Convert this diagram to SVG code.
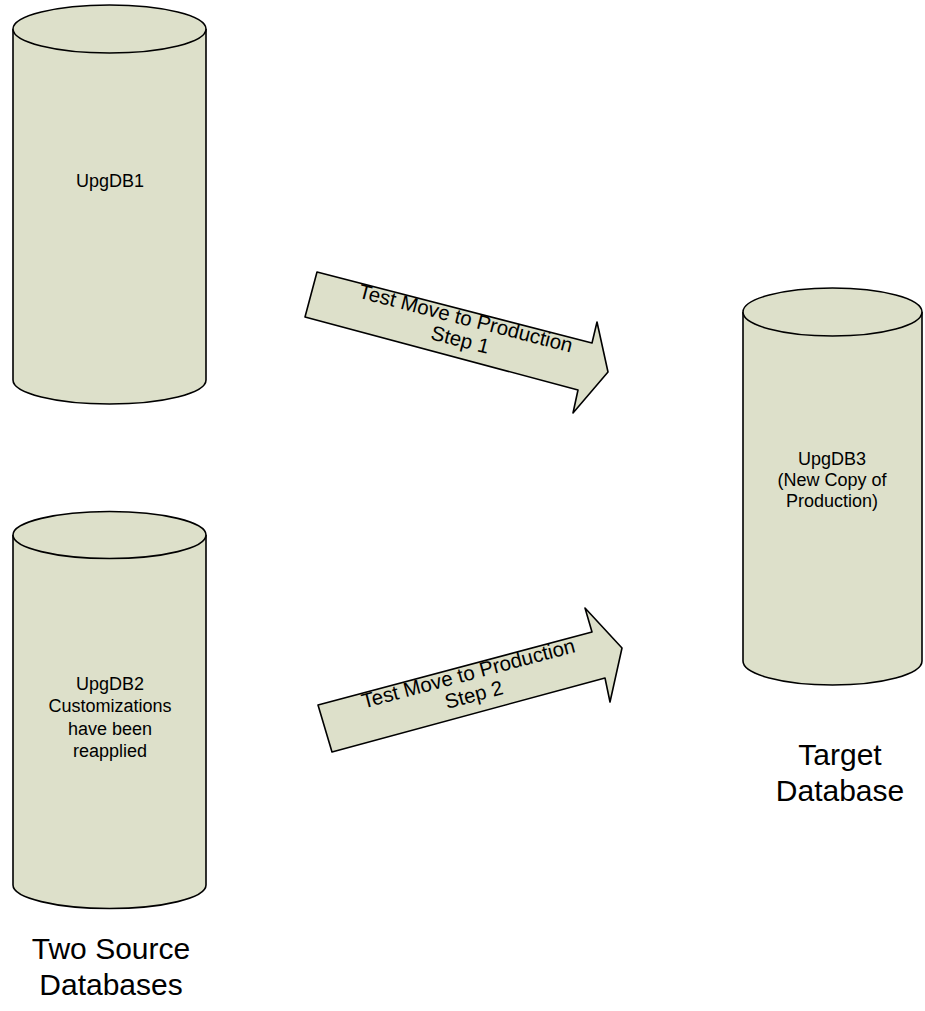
<svg xmlns="http://www.w3.org/2000/svg" width="925" height="1011" viewBox="0 0 925 1011">
<style>
.shape{fill:#dde0ca;stroke:#000;stroke-width:1.6;stroke-linejoin:round}
.lbl{font-family:"Liberation Sans",Arial,sans-serif;font-size:18px;fill:#000;text-anchor:middle}
.big{font-family:"Liberation Sans",Arial,sans-serif;font-size:30px;fill:#000;text-anchor:middle}
.atxt{font-family:"Liberation Sans",Arial,sans-serif;font-size:20.5px;fill:#000;text-anchor:middle}
</style>
<rect width="925" height="1011" fill="#fff"/>
<g id="UpgDB1">
<path class="shape" d="M13,29 L13,380 A96.5,24 0 0 0 206,380 L206,29 A96.5,24 0 0 0 13,29 Z"/>
<path class="shape" d="M13,29 A96.5,24 0 0 0 206,29" fill="none"/>
<text class="lbl" x="110" y="187">UpgDB1</text>
</g>
<g id="UpgDB2">
<path class="shape" d="M13,535 L13,885 A96.5,23.5 0 0 0 206,885 L206,535 A96.5,23.5 0 0 0 13,535 Z"/>
<path class="shape" d="M13,535 A96.5,23.5 0 0 0 206,535" fill="none"/>
<text class="lbl" x="110" y="690">UpgDB2</text>
<text class="lbl" x="110" y="712">Customizations</text>
<text class="lbl" x="110" y="735">have been</text>
<text class="lbl" x="110" y="757">reapplied</text>
</g>
<g id="UpgDB3">
<path class="shape" d="M743,312 L743,661 A89.5,24 0 0 0 922,661 L922,312 A89.5,24 0 0 0 743,312 Z"/>
<path class="shape" d="M743,312 A89.5,24 0 0 0 922,312" fill="none"/>
<text class="lbl" x="832" y="465">UpgDB3</text>
<text class="lbl" x="832" y="486">(New Copy of</text>
<text class="lbl" x="832" y="507">Production)</text>
</g>
<g id="label-source">
<text class="big" x="111" y="959">Two Source</text>
<text class="big" x="111" y="995">Databases</text>
</g>
<g id="label-target">
<text class="big" x="840" y="765">Target</text>
<text class="big" x="840" y="801">Database</text>
</g>
<g id="connectors">
<g id="arrow1">
<polygon class="shape" points="317,272 592,343 597,322 608,372 573,413 578,390 305,317"/>
<g transform="translate(463,329) rotate(14.5)">
<text class="atxt" x="0" y="-4">Test Move to Production</text>
<text class="atxt" x="0" y="18">Step 1</text>
</g>
</g>
<g id="arrow2">
<polygon class="shape" points="318,705 592,632 585,608 622,648 610,702 605,678 332,752"/>
<g transform="translate(471,684) rotate(-14.9)">
<text class="atxt" x="0" y="-4">Test Move to Production</text>
<text class="atxt" x="0" y="18">Step 2</text>
</g>
</g>
</g>
</svg>
